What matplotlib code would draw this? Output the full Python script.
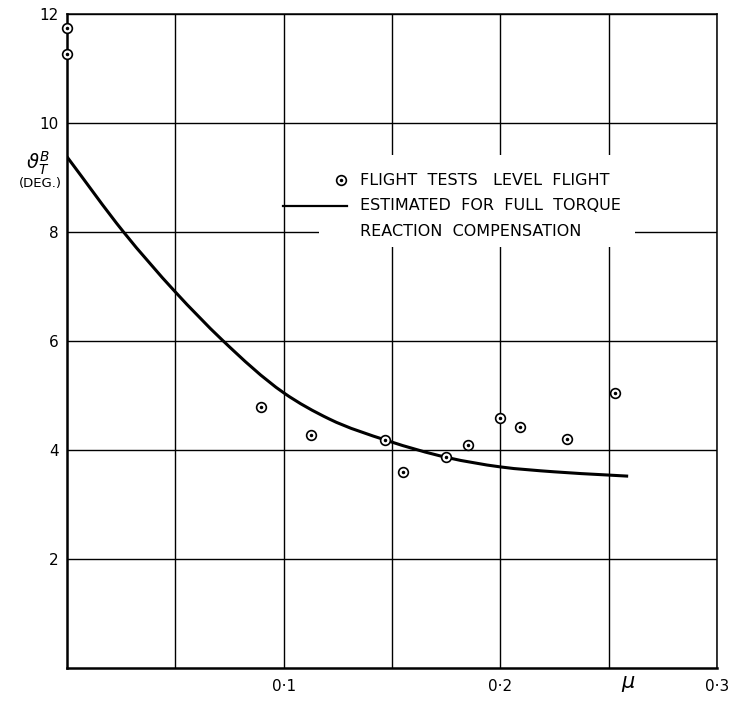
import matplotlib
matplotlib.use("Agg")
import matplotlib.pyplot as plt
from matplotlib.patches import Rectangle, PathPatch
from matplotlib.path import Path
import numpy as np

# Data
flight_mu = [0.0, 0.0, 0.0895, 0.1124, 0.147, 0.155, 0.175, 0.185, 0.2, 0.2093, 0.2308, 0.2528]
flight_theta = [11.74, 11.27, 4.79, 4.28, 4.18, 3.60, 3.87, 4.09, 4.59, 4.42, 4.20, 5.05]

est_mu = [0.0, 0.0261, 0.05, 0.0716, 0.1, 0.121, 0.148, 0.1757, 0.2, 0.2248, 0.25, 0.259]
est_theta = [9.38, 8.00, 6.90, 6.02, 5.05, 4.57, 4.17, 3.86, 3.69, 3.60, 3.54, 3.52]

xticks = [0.05, 0.1, 0.15, 0.2, 0.25, 0.3]
xticklabels = ["", "0·1", "", "0·2", "", "0·3"]
yticks = [2, 4, 6, 8, 10, 12]
yticklabels = ["2", "4", "6", "8", "10", "12"]

plt.rcParams['font.family'] = ['DejaVu Sans']

fig = plt.figure(figsize=(7.42, 7.04), dpi=100)
ax = fig.add_axes([67/742, 36/704, 650/742, 654/704])
ax.set_xlim(0, 0.3)
ax.set_ylim(0, 12)
ax.set_xticks(xticks, xticklabels, fontsize=11)
ax.set_yticks(yticks, yticklabels, fontsize=11)
ax.tick_params(length=0, pad=8)
ax.tick_params(axis='y', pad=6)
ax.set_axisbelow(True)
ax.grid(True, color='black', linewidth=1.0)
for s in ['left', 'bottom']:
    ax.spines[s].set_linewidth(1.8)
for s in ['top', 'right']:
    ax.spines[s].set_linewidth(1.1)

# white area behind legend text (breaks grid lines)
ax.add_patch(Rectangle((0.1165, 7.72), 0.262 - 0.1165, 9.42 - 7.72,
                       facecolor='white', edgecolor='none', zorder=1))

# smooth curve through the read points, drawn as cubic Bezier segments
x = np.asarray(est_mu)
y = np.asarray(est_theta)
h = np.diff(x)
d = np.diff(y) / h
m = np.empty_like(y)
m[0], m[-1] = d[0], d[-1]
for i in range(1, len(x) - 1):
    m[i] = (h[i] * d[i - 1] + h[i - 1] * d[i]) / (h[i - 1] + h[i])
verts = [(x[0], y[0])]
codes = [Path.MOVETO]
for i in range(len(x) - 1):
    verts += [(x[i] + h[i] / 3, y[i] + m[i] * h[i] / 3),
              (x[i + 1] - h[i] / 3, y[i + 1] - m[i + 1] * h[i] / 3),
              (x[i + 1], y[i + 1])]
    codes += [Path.CURVE4] * 3
ax.add_patch(PathPatch(Path(verts, codes), facecolor='none', edgecolor='black',
                       linewidth=2.2, zorder=3, capstyle='butt'))

ax.plot(flight_mu, flight_theta, linestyle='none', marker='o', markersize=7,
        markerfacecolor='white', markeredgecolor='black', markeredgewidth=1.2,
        zorder=4, clip_on=False)
ax.plot(flight_mu, flight_theta, linestyle='none', marker='o', markersize=1.5,
        color='black', zorder=5, clip_on=False)

# legend drawn by hand
ax.plot([0.1266], [8.95], linestyle='none', marker='o', markersize=7,
        markerfacecolor='white', markeredgecolor='black', markeredgewidth=1.2, zorder=4)
ax.plot([0.1266], [8.95], linestyle='none', marker='o', markersize=1.5,
        color='black', zorder=5)
ax.text(0.135, 8.95, "FLIGHT  TESTS   LEVEL  FLIGHT", fontsize=11.5,
        va='center', ha='left', zorder=5)
ax.plot([0.0995, 0.129], [8.48, 8.48], color='black', linewidth=1.6, zorder=3)
ax.text(0.135, 8.48, "ESTIMATED  FOR  FULL  TORQUE", fontsize=11.5,
        va='center', ha='left', zorder=5)
ax.text(0.135, 8.0, "REACTION  COMPENSATION", fontsize=11.5,
        va='center', ha='left', zorder=5)

# axis labels
fig.text(38/742, 1 - 163/704, r"$\vartheta^{B}_{T}$", fontsize=14,
         ha='center', va='center')
fig.text(40/742, 1 - 184/704, "(DEG.)", fontsize=9.5, ha='center', va='center')
ax.text(0.259, -0.3, r"$\mu$", fontsize=15, ha='center', va='center')

fig.savefig("out.png", dpi=100, facecolor='white')
